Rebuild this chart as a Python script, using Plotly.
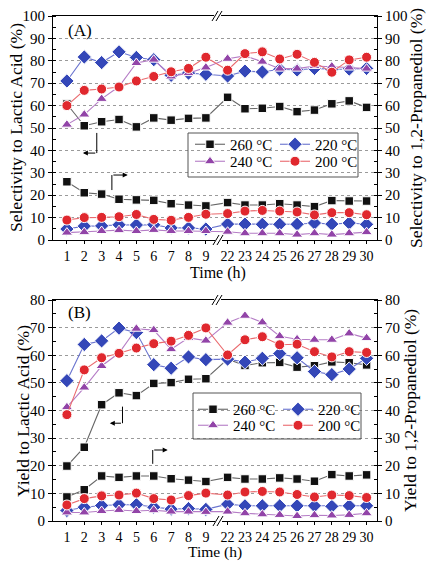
import plotly.graph_objects as go

# ---------------- data ----------------
hours = [1, 2, 3, 4, 5, 6, 7, 8, 9, 22, 23, 24, 25, 26, 27, 28, 29, 30]
temps = ["260 °C", "220 °C", "240 °C", "200 °C"]

# Panel A: selectivity to lactic acid (left axis)
selLA_260 = [60.7, 51.0, 52.8, 53.8, 50.5, 54.5, 53.5, 54.3, 54.5, 63.7, 58.6, 58.8, 59.6, 57.3, 58.0, 60.8, 62.1, 59.2]
selLA_220 = [71.0, 81.7, 79.2, 84.0, 81.5, 80.5, 73.5, 74.5, 74.0, 73.2, 75.4, 75.0, 76.2, 75.9, 76.6, 76.2, 76.3, 76.6]
selLA_240 = [51.5, 56.0, 63.0, 68.5, 79.0, 80.5, 73.0, 74.5, 77.0, 80.9, 82.2, 79.6, 76.5, 76.5, 77.7, 77.5, 77.0, 76.5]
selLA_200 = [60.0, 66.8, 67.4, 68.3, 71.0, 73.0, 75.1, 76.6, 81.6, 75.8, 83.2, 84.0, 80.8, 82.9, 79.3, 74.9, 80.4, 81.6]

# Panel A: selectivity to 1,2-propanediol (right axis)
selPD_260 = [26.0, 21.1, 20.5, 18.2, 17.9, 17.7, 16.2, 15.6, 15.2, 16.7, 15.6, 15.6, 16.2, 15.6, 14.9, 17.6, 17.4, 17.4]
selPD_220 = [4.9, 6.2, 6.3, 6.8, 6.7, 6.8, 5.4, 5.4, 4.9, 7.1, 7.1, 7.0, 7.0, 7.0, 7.6, 7.1, 7.6, 7.0]
selPD_240 = [3.3, 3.5, 4.0, 4.4, 4.0, 4.5, 4.0, 4.0, 4.0, 3.7, 3.0, 3.0, 3.0, 2.4, 3.0, 2.4, 3.0, 3.5]
selPD_200 = [8.9, 10.0, 10.1, 10.4, 11.4, 9.2, 8.8, 10.1, 11.5, 11.8, 12.9, 13.2, 12.9, 12.5, 11.2, 12.2, 12.2, 11.3]

# Panel B: yield to lactic acid (left axis)
yLA_260 = [19.9, 26.7, 42.1, 46.4, 45.4, 49.8, 50.1, 51.3, 51.5, 58.6, 56.3, 57.3, 57.4, 55.7, 56.2, 57.6, 57.3, 56.5]
yLA_220 = [50.8, 63.9, 65.2, 69.8, 68.2, 56.6, 55.3, 59.4, 58.4, 58.6, 57.5, 58.9, 60.6, 59.1, 54.1, 53.0, 55.0, 58.9]
yLA_240 = [41.2, 48.3, 56.1, 60.8, 69.6, 69.1, 62.2, 66.3, 65.3, 71.8, 74.3, 71.9, 66.9, 65.8, 65.6, 65.6, 67.9, 66.2]
yLA_200 = [38.5, 54.7, 59.1, 60.7, 62.6, 64.2, 65.1, 67.2, 69.9, 60.1, 65.6, 66.7, 63.8, 64.0, 61.3, 59.4, 61.3, 61.0]

# Panel B: yield to 1,2-propanediol (right axis)
yPD_260 = [8.7, 11.3, 16.3, 15.8, 16.3, 16.3, 15.3, 14.8, 14.3, 15.8, 15.2, 15.2, 15.6, 15.2, 14.4, 16.8, 16.3, 16.7]
yPD_220 = [3.8, 5.0, 5.6, 5.9, 5.9, 5.0, 4.3, 4.5, 4.2, 6.1, 5.5, 5.5, 5.5, 5.5, 5.5, 5.3, 5.5, 5.5]
yPD_240 = [3.1, 3.1, 3.6, 4.0, 3.6, 3.9, 3.4, 3.4, 3.3, 3.4, 2.8, 2.4, 2.2, 1.8, 2.1, 2.0, 2.2, 2.8]
yPD_200 = [5.8, 8.1, 9.1, 9.4, 10.1, 8.1, 7.6, 9.2, 10.1, 9.4, 10.5, 10.7, 10.5, 9.6, 8.7, 9.4, 9.2, 8.5]

tick_labels = [str(h) for h in hours]

# ---------------- layout helpers ----------------
W, H = 427, 562
FONT = "Liberation Serif, Times New Roman, serif"


def X(px):
    return px / W


def Y(py):
    return 1 - py / H


def hour_pos(h):
    # broken time axis: 1..9, then 22..30 after a gap
    return h if h <= 9 else h - 22 + 10.25


xpos = [hour_pos(h) for h in hours]

styles = {
    "260 °C": dict(symbol="square", mcolor="#111111", lcolor="#666666", size=8.5),
    "220 °C": dict(symbol="diamond", mcolor="#3447b8", lcolor="#6a74cf", size=11),
    "240 °C": dict(symbol="triangle-up", mcolor="#9244a8", lcolor="#b57cc6", size=10),
    "200 °C": dict(symbol="circle", mcolor="#e0282e", lcolor="#ea6a6e", size=10),
}

fig = go.Figure()

panels = [
    ("x", "y", "y3", [selLA_260, selLA_220, selLA_240, selLA_200],
     [selPD_260, selPD_220, selPD_240, selPD_200], "legend", "legend2"),
    ("x2", "y2", "y4", [yLA_260, yLA_220, yLA_240, yLA_200],
     [yPD_260, yPD_220, yPD_240, yPD_200], "legend3", "legend4"),
]

for xa, yl, yr, upper, lower, lg1, lg2 in panels:
    for i, t in enumerate(temps):
        s = styles[t]
        common = dict(
            x=xpos, mode="lines+markers", name=t, xaxis=xa,
            line=dict(color=s["lcolor"], width=1.1),
            marker=dict(symbol=s["symbol"], color=s["mcolor"], size=s["size"],
                        line=dict(color="white", width=1.0)),
            legendgroup=xa + t,
        )
        fig.add_trace(go.Scatter(y=upper[i], yaxis=yl, showlegend=True,
                                 legend=(lg1 if i < 2 else lg2), **common))
        fig.add_trace(go.Scatter(y=lower[i], yaxis=yr, showlegend=False, **common))

xrange = [0.2, 18.85]
tickfont = dict(family=FONT, size=15, color="black")

xcommon = dict(
    range=xrange, tickvals=xpos, ticktext=tick_labels, ticks="outside", ticklen=3,
    tickcolor="black", showline=True, linecolor="black", linewidth=1, mirror=True,
    showgrid=False, zeroline=False, tickfont=dict(family=FONT, size=14, color="black"),
    tickangle=0, automargin=False,
)
ycommon = dict(
    ticks="outside", ticklen=4, tickcolor="black", showline=True, linecolor="black",
    linewidth=1, zeroline=False, tickfont=tickfont, automargin=False,
    minor=dict(dtick=5, ticks="inside", ticklen=3, tickcolor="black"),
)

domA = [Y(240), Y(16)]
domB = [Y(521), Y(300)]
dx = [X(53), X(377)]

fig.update_layout(
    width=W, height=H, margin=dict(l=0, r=0, t=0, b=0),
    paper_bgcolor="white", plot_bgcolor="white",
    font=dict(family=FONT, size=15, color="black"),
    xaxis=dict(domain=dx, anchor="y", **xcommon),
    xaxis2=dict(domain=dx, anchor="y2", **xcommon),
    yaxis=dict(domain=domA, anchor="x", range=[0, 100], dtick=10, showgrid=True,
               gridcolor="#9a9a9a", griddash="dot", gridwidth=1, **ycommon),
    yaxis3=dict(overlaying="y", anchor="x", side="right", range=[0, 100], dtick=10,
                showgrid=False, **ycommon),
    yaxis2=dict(domain=domB, anchor="x2", range=[0, 80], dtick=10, showgrid=True,
                gridcolor="#9a9a9a", griddash="dot", gridwidth=1, **ycommon),
    yaxis4=dict(overlaying="y2", anchor="x2", side="right", range=[0, 80], dtick=10,
                showgrid=False, **ycommon),
    showlegend=True,
)

leg_common = dict(orientation="h", xanchor="left", yanchor="top", entrywidth=40,
                  entrywidthmode="pixels", bgcolor="rgba(0,0,0,0)", borderwidth=0,
                  font=dict(family=FONT, size=15, color="black"),
                  tracegroupgap=0, itemclick=False, itemdoubleclick=False)
fig.update_layout(
    legend=dict(x=X(190), y=Y(128), **leg_common),
    legend2=dict(x=X(190), y=Y(145), **leg_common),
    legend3=dict(x=X(193), y=Y(393), **leg_common),
    legend4=dict(x=X(193), y=Y(409), **leg_common),
)

shapes = []
for (x0, y0, x1, y1) in [(188, 133, 358, 177), (193, 393, 361, 439)]:
    shapes.append(dict(type="rect", xref="paper", yref="paper", x0=X(x0), x1=X(x1),
                       y0=Y(y1), y1=Y(y0), line=dict(color="#555555", width=1),
                       fillcolor="rgba(0,0,0,0)", layer="above"))
for (cx, cy) in [(218, 16), (219, 240), (218, 300), (219, 521)]:
    shapes.append(dict(type="rect", xref="paper", yref="paper", x0=X(cx - 4), x1=X(cx + 3),
                       y0=Y(cy + 2), y1=Y(cy - 2), line=dict(width=0), fillcolor="white",
                       layer="above"))
    for off in (-4, 0):
        shapes.append(dict(type="line", xref="paper", yref="paper",
                           x0=X(cx + off - 2), y0=Y(cy + 5), x1=X(cx + off + 4), y1=Y(cy - 5),
                           line=dict(color="black", width=1), layer="above"))
stems = [("x", "y", 2.72, 47.8, 38.8), ("x", "y", 3.59, 22.3, 29.0),
         ("x2", "y2", 4.2, 41.4, 35.4), ("x2", "y2", 5.94, 20.7, 25.7)]
for xa, ya, xv, y0, y1 in stems:
    shapes.append(dict(type="line", xref=xa, yref=ya, x0=xv, x1=xv, y0=y0, y1=y1,
                       line=dict(color="black", width=1)))
fig.update_layout(shapes=shapes)

annotations = []
heads = [("x", "y", 2.72, 38.8, 1.92), ("x", "y", 3.59, 29.0, 4.5),
         ("x2", "y2", 4.2, 35.4, 3.47), ("x2", "y2", 5.94, 25.7, 6.8)]
for xa, ya, xs, yv, xt in heads:
    annotations.append(dict(xref=xa, yref=ya, axref=xa, ayref=ya, x=xt, y=yv, ax=xs, ay=yv,
                            text="", showarrow=True, arrowhead=2, arrowsize=1,
                            arrowwidth=1, arrowcolor="black"))


def txt(text, x, y, size=16, angle=0, yanchor="middle"):
    return dict(xref="paper", yref="paper", x=X(x), y=Y(y), text=text, showarrow=False,
                xanchor="center", yanchor=yanchor, textangle=angle, borderpad=0,
                font=dict(family=FONT, size=size, color="black"))


annotations += [
    txt("(A)", 80, 31, 17),
    txt("(B)", 79, 312, 17),
    txt("Selectivity to Lactic Acid (%)", 16, 128, 17.5, -90),
    txt("Selectivity to 1,2-Propanediol (%)", 416, 128, 17.5, -90),
    txt("Yield to Lactic Acid (%)", 23, 411, 17.5, -90),
    txt("Yield to 1,2-Propanediol (%)", 410, 411, 17.5, -90),
    txt("Time (h)", 218, 273, 16),
    txt("Time (h)", 215, 562, 15.5, yanchor="bottom"),
]
fig.update_layout(annotations=annotations)

fig.write_html(
    "out.html",
    config={"displayModeBar": False, "staticPlot": True},
    post_script="document.body.style.margin='0';document.body.style.padding='0';"
                "document.body.style.overflow='hidden';",
)
